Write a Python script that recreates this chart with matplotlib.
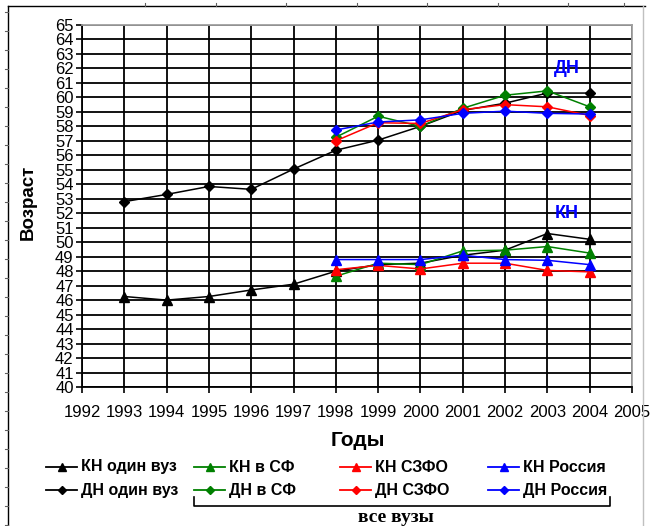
import matplotlib
matplotlib.use("Agg")
import matplotlib.pyplot as plt
from matplotlib.lines import Line2D
from matplotlib import font_manager

# ---------------- data ----------------
years_one = [1993, 1994, 1995, 1996, 1997, 1998, 1999, 2000, 2001, 2002, 2003, 2004]
kn_one = [46.25, 46.0, 46.25, 46.7, 47.1, 48.0, 48.45, 48.55, 49.1, 49.45, 50.6, 50.2]
dn_one = [52.8, 53.3, 53.85, 53.65, 55.05, 56.35, 57.05, 58.0, 59.1, 59.6, 60.3, 60.3]

years_all = [1998, 1999, 2000, 2001, 2002, 2003, 2004]
kn_sf = [47.65, 48.55, 48.45, 49.4, 49.45, 49.7, 49.25]
kn_szfo = [48.1, 48.4, 48.15, 48.55, 48.55, 48.05, 47.95]
kn_rus = [48.8, 48.8, 48.8, 49.1, 48.8, 48.75, 48.45]
dn_sf = [57.25, 58.7, 58.0, 59.25, 60.15, 60.45, 59.35]
dn_szfo = [57.0, 58.25, 58.2, 59.15, 59.5, 59.35, 58.75]
dn_rus = [57.75, 58.3, 58.45, 58.9, 59.05, 58.9, 58.85]

legend_labels = ["КН один вуз", "ДН один вуз", "КН в СФ", "ДН в СФ",
                 "КН СЗФО", "ДН СЗФО", "КН Россия", "ДН Россия"]
x_ticks = list(range(1992, 2006))
y_ticks = list(range(40, 66))

# ---------------- fonts ----------------
avail = {f.name for f in font_manager.fontManager.ttflist}
narrow = "Liberation Sans Narrow" if "Liberation Sans Narrow" in avail else "Liberation Sans"
plt.rcParams['font.family'] = [narrow, 'DejaVu Sans']

W, H = 651, 526
fig = plt.figure(figsize=(W / 100, H / 100), dpi=100)
fig.patch.set_facecolor("white")

# plot area in pixels: left 82, right 632, top 25, bottom 387
ax = fig.add_axes([82 / W, 1 - 387 / H, 550 / W, 362 / H])
ax.set_xlim(1992, 2005)
ax.set_ylim(40, 65)
ax.set_xticks(x_ticks)
ax.set_yticks(y_ticks)
ax.grid(True, color="black", linewidth=1.3)
ax.set_axisbelow(True)
for s in ["left", "bottom"]:
    ax.spines[s].set_color("black")
    ax.spines[s].set_linewidth(1.3)
for s in ["top", "right"]:
    ax.spines[s].set_color("#a0a0a0")
    ax.spines[s].set_linewidth(1.3)
ax.tick_params(direction="out", length=4, width=1.2, color="black")
ax.tick_params(axis="y", labelsize=12, pad=2)
ax.tick_params(axis="x", labelsize=12, pad=9)

series = [
    (years_one, kn_one, "black", "^"),
    (years_one, dn_one, "black", "D"),
    (years_all, kn_sf, "#008000", "^"),
    (years_all, dn_sf, "#008000", "D"),
    (years_all, kn_szfo, "#ff0000", "^"),
    (years_all, dn_szfo, "#ff0000", "D"),
    (years_all, kn_rus, "#0000ff", "^"),
    (years_all, dn_rus, "#0000ff", "D"),
]
for xs, ys, c, m in series:
    ax.plot(xs, ys, color=c, marker=m, markersize=7 if m == "^" else 5.5,
            linewidth=1.1, markeredgecolor=c, clip_on=False)

ax.text(2003.45, 62.0, "ДН", color="#0000ff", fontsize=13, fontweight="bold",
        ha="center", va="center", family=["Liberation Sans", "DejaVu Sans"])
ax.text(2003.45, 51.95, "КН", color="#0000ff", fontsize=13, fontweight="bold",
        ha="center", va="center", family=["Liberation Sans", "DejaVu Sans"])

# ---------------- overlay in pixel coordinates ----------------
ov = fig.add_axes([0, 0, 1, 1], facecolor="none")
ov.set_xlim(0, W)
ov.set_ylim(H, 0)
ov.axis("off")

# outer frame with ruler-like ticks
ov.plot([8, 8], [6, H], color="black", lw=1.0)
ov.plot([8, 645], [6, 6], color="black", lw=1.0)
ov.plot([643, 643], [6, H], color="#c0c0c0", lw=1.0)
y0 = 164
while y0 - 19 > 8:
    y0 -= 19
yy = y0
while yy < H:
    ov.plot([4.5, 8], [yy, yy], color="#606060", lw=0.8)
    yy += 19
for xx in [145, 216, 286, 357, 427, 498, 568, 624]:
    ov.plot([xx, xx], [2.5, 6], color="#606060", lw=0.8)

# axis titles
ov.text(28, 202, "Возраст", rotation=90, ha="center", va="center",
        fontsize=13.5, fontweight="bold", family=["Liberation Sans", "DejaVu Sans"])
ov.text(358, 440, "Годы", ha="center", va="center",
        fontsize=15, fontweight="bold", family=["Liberation Sans", "DejaVu Sans"])

# legend
col_x = [46, 194, 340, 488]
row_y = [467, 490]
colors = ["black", "#008000", "#ff0000", "#0000ff"]
for i, lab in enumerate(legend_labels):
    col, row = i // 2, i % 2
    c = colors[col]
    m = "^" if row == 0 else "D"
    x0 = col_x[col]
    y = row_y[row]
    ov.plot([x0, x0 + 31], [y, y], color=c, lw=1.3)
    ov.plot([x0 + 15.5], [y], marker=m, color=c, markersize=6 if m == "^" else 4.5,
            markeredgecolor=c)
    ov.text(x0 + 35, y, lab, ha="left", va="center", fontsize=11.5,
            fontweight="bold")

# bracket and group label
ov.plot([194, 194, 610, 610], [497, 506, 506, 497], color="black", lw=1.2)
ov.text(396, 518, "все вузы", ha="center", va="center", fontsize=14,
        fontweight="bold", family=["Liberation Serif", "DejaVu Serif"])

fig.savefig("out.png", dpi=100, facecolor="white")
